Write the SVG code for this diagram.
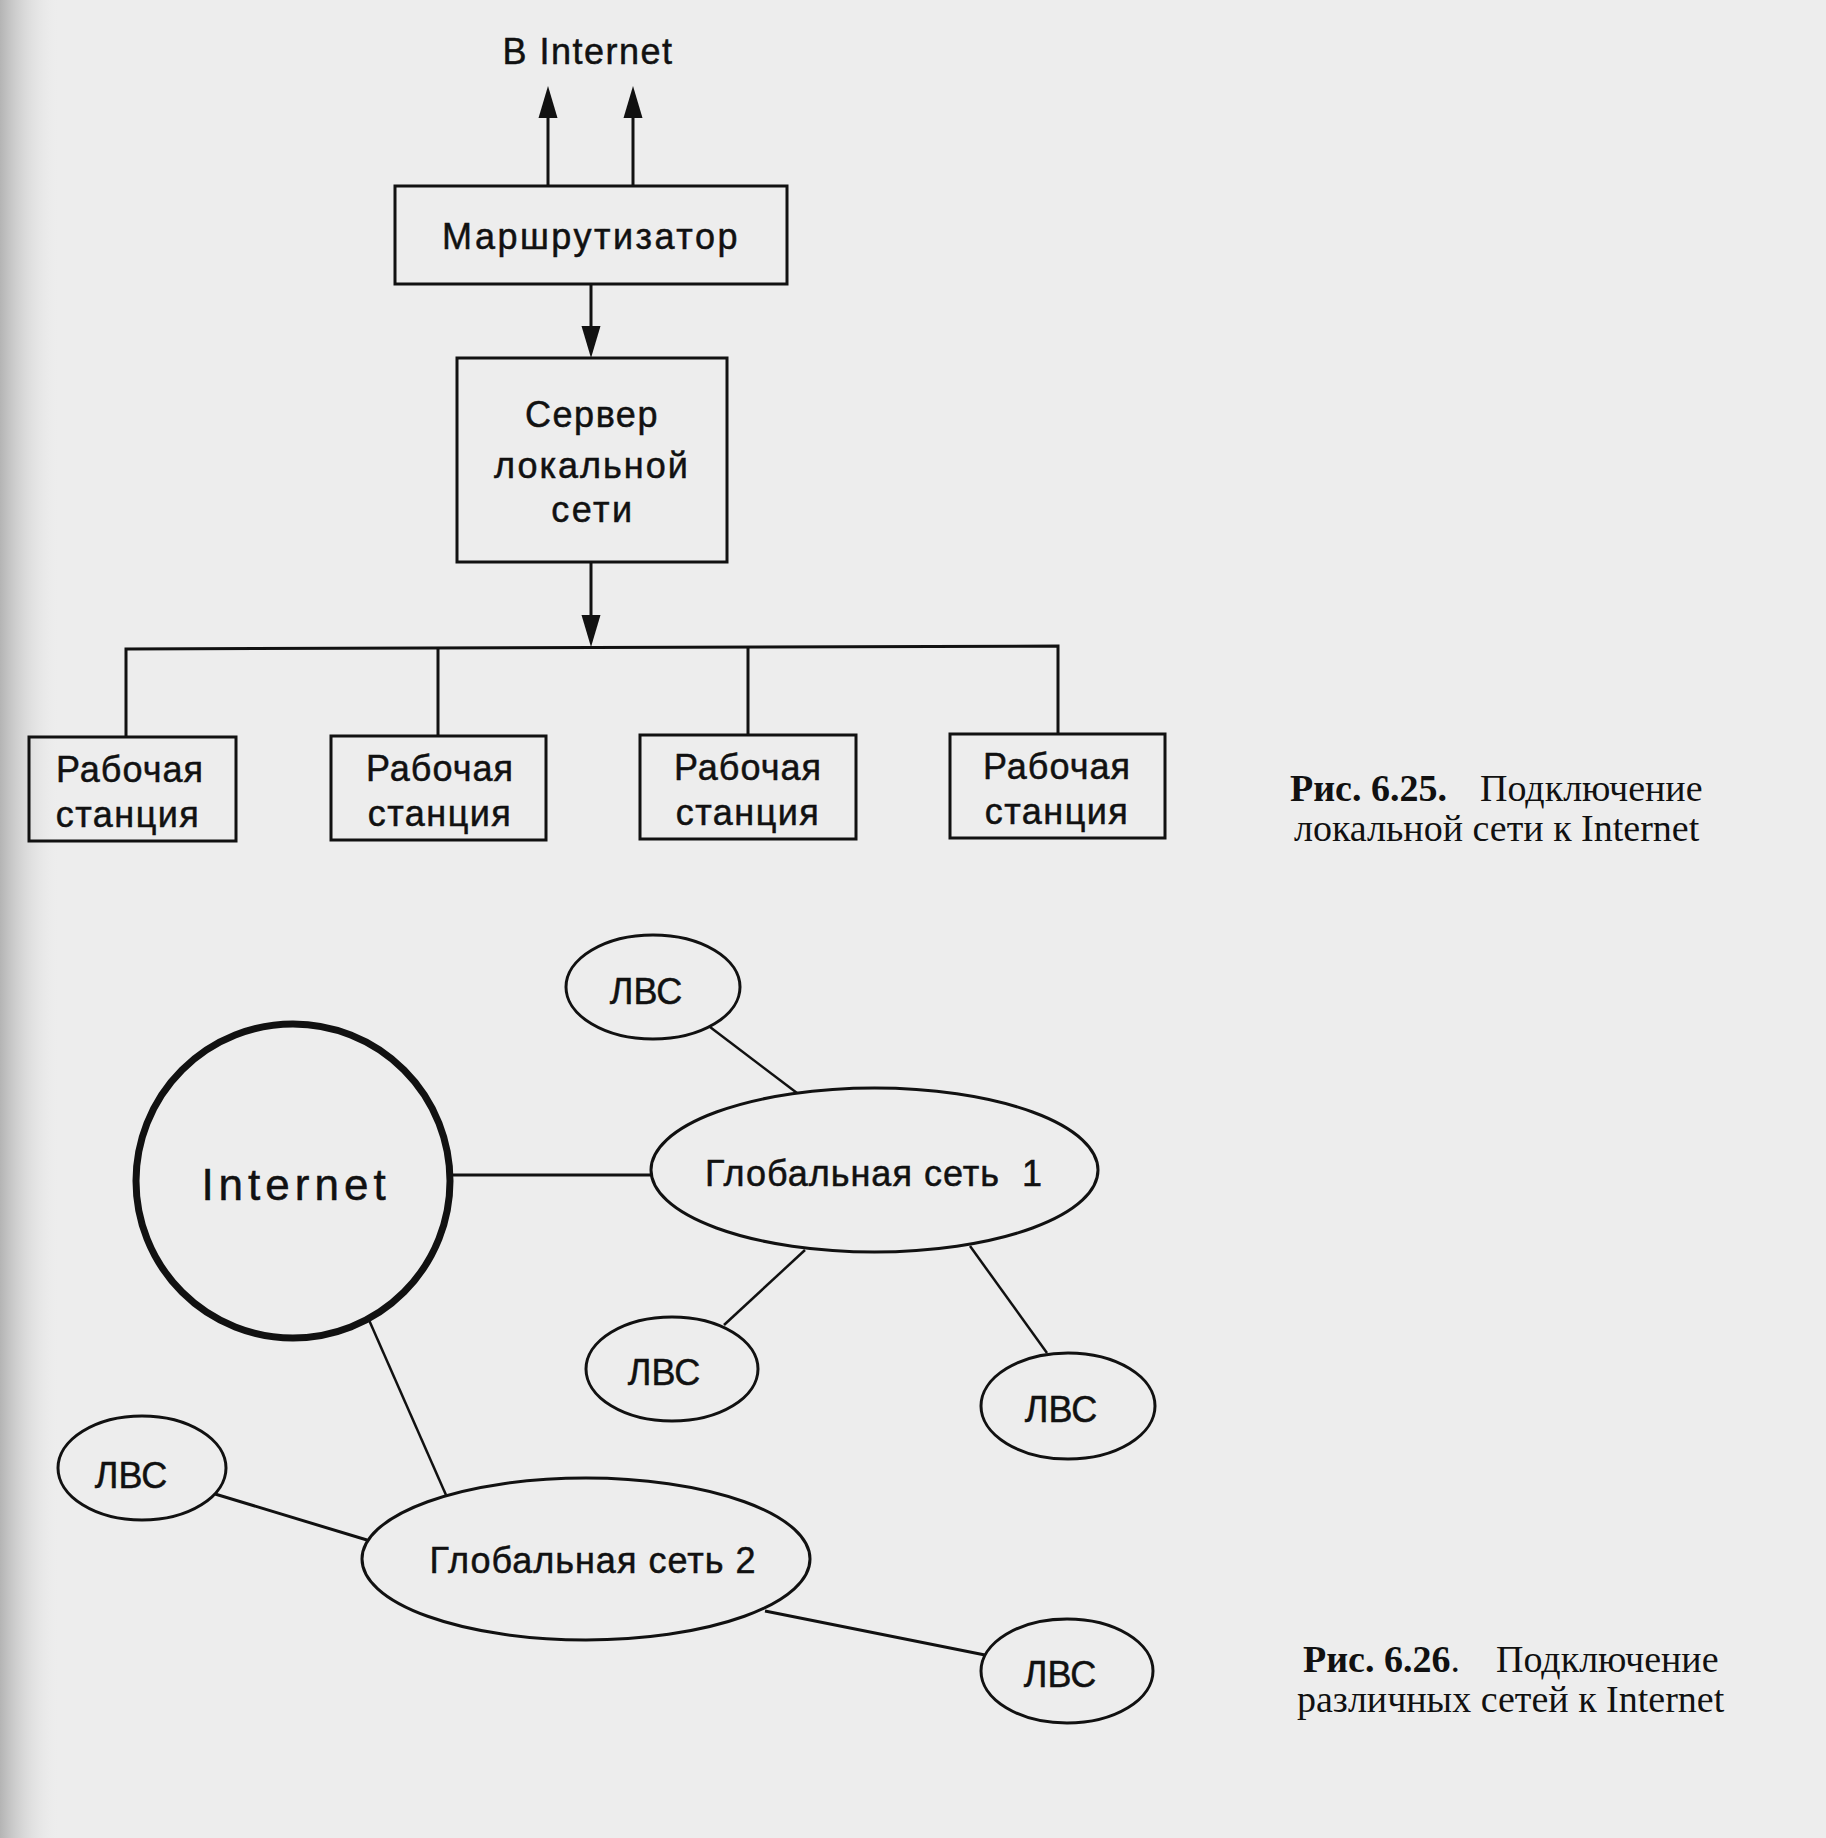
<svg xmlns="http://www.w3.org/2000/svg" width="1826" height="1838" viewBox="0 0 1826 1838">
<defs>
<linearGradient id="edge" x1="0" y1="0" x2="1" y2="0">
<stop offset="0" stop-color="#b4b4b4"/>
<stop offset="1" stop-color="#ededed" stop-opacity="0"/>
</linearGradient>
<marker id="arr" markerUnits="userSpaceOnUse" markerWidth="34" markerHeight="20" viewBox="0 0 34 20" refX="22" refY="10" orient="auto">
<path d="M0,0.5 L32,10 L0,19.5 z" fill="#111"/>
</marker>
<style>
.box{fill:none;stroke:#111;stroke-width:3}
.ell{fill:none;stroke:#111;stroke-width:3}
.big{fill:none;stroke:#111;stroke-width:7}
.ln{fill:none;stroke:#111;stroke-width:3}
.thin{fill:none;stroke:#111;stroke-width:2.5}
.t{font-family:"Liberation Sans",Arial,sans-serif;font-size:36px;fill:#111;stroke:#111;stroke-width:0.5;text-anchor:middle}
.g{font-family:"Liberation Sans",Arial,sans-serif;font-size:36px;fill:#111;stroke:#111;stroke-width:0.5;text-anchor:middle;letter-spacing:1px}
.cap{font-family:"Liberation Serif","Times New Roman",serif;font-size:38px;fill:#111}
.b{font-weight:bold}
</style>
</defs>
<rect x="0" y="0" width="1826" height="1838" fill="#ededed"/>
<rect x="0" y="0" width="60" height="1838" fill="url(#edge)"/>

<g id="connectors">
<line class="ln" x1="548" y1="186" x2="548" y2="96" marker-end="url(#arr)"/>
<line class="ln" x1="633" y1="186" x2="633" y2="96" marker-end="url(#arr)"/>
<line class="ln" x1="591" y1="284" x2="591" y2="348" marker-end="url(#arr)"/>
<line class="ln" x1="591" y1="562" x2="591" y2="637" marker-end="url(#arr)"/>
<polyline class="ln" points="126,737 126,649 1058,646 1058,734"/>
<line class="ln" x1="438" y1="648" x2="438" y2="736"/>
<line class="ln" x1="748" y1="647" x2="748" y2="735"/>
<line class="ln" x1="451" y1="1175" x2="651" y2="1175"/>
<line class="thin" x1="710" y1="1027" x2="797" y2="1093"/>
<line class="thin" x1="805" y1="1250" x2="724" y2="1325"/>
<line class="thin" x1="970" y1="1246" x2="1047" y2="1353"/>
<line class="thin" x1="369" y1="1320" x2="446" y2="1495"/>
<line class="ln" x1="215" y1="1494" x2="367" y2="1540"/>
<line class="ln" x1="765" y1="1611" x2="985" y2="1655"/>
</g>

<g id="label-internet-top">
<text class="t" x="588" y="64" style="letter-spacing:1.5px">B Internet</text>
</g>

<g id="router">
<rect class="box" x="395" y="186" width="392" height="98"/>
<text class="t" x="591" y="249" style="letter-spacing:2.5px">Маршрутизатор</text>
</g>

<g id="server">
<rect class="box" x="457" y="358" width="270" height="204"/>
<text class="t" x="592" y="427" style="letter-spacing:1.5px">Сервер</text>
<text class="t" x="592" y="478" style="letter-spacing:2px">локальной</text>
<text class="t" x="593" y="522" style="letter-spacing:2.5px">сети</text>
</g>

<g id="ws1">
<rect class="box" x="29" y="737" width="207" height="104"/>
<text class="t" x="130" y="782" style="letter-spacing:1px">Рабочая</text>
<text class="t" x="128" y="827" style="letter-spacing:1.5px">станция</text>
</g>
<g id="ws2">
<rect class="box" x="331" y="736" width="215" height="104"/>
<text class="t" x="440" y="781" style="letter-spacing:1px">Рабочая</text>
<text class="t" x="440" y="826" style="letter-spacing:1.5px">станция</text>
</g>
<g id="ws3">
<rect class="box" x="640" y="735" width="216" height="104"/>
<text class="t" x="748" y="780" style="letter-spacing:1px">Рабочая</text>
<text class="t" x="748" y="825" style="letter-spacing:1.5px">станция</text>
</g>
<g id="ws4">
<rect class="box" x="950" y="734" width="215" height="104"/>
<text class="t" x="1057" y="779" style="letter-spacing:1px">Рабочая</text>
<text class="t" x="1057" y="824" style="letter-spacing:1.5px">станция</text>
</g>

<g id="caption-625">
<text class="cap" x="1290" y="801"><tspan class="b">Рис. 6.25.</tspan></text>
<text class="cap" x="1480" y="801">Подключение</text>
<text class="cap" x="1294" y="841">локальной сети к Internet</text>
</g>

<g id="internet">
<circle class="big" cx="293" cy="1181" r="157"/>
<text class="t" x="296" y="1200" style="font-size:44px;letter-spacing:5px">Internet</text>
</g>

<g id="global1">
<ellipse class="ell" cx="874.5" cy="1170" rx="223.5" ry="82"/>
<text class="g" x="874" y="1186" xml:space="preserve">Глобальная сеть  1</text>
</g>

<g id="global2">
<ellipse class="ell" cx="586" cy="1559" rx="224" ry="81"/>
<text class="g" x="593" y="1573">Глобальная сеть 2</text>
</g>

<g id="lan-top">
<ellipse class="ell" cx="653" cy="987" rx="87" ry="52"/>
<text class="g" x="646" y="1004" style="letter-spacing:0">ЛВС</text>
</g>
<g id="lan-mid">
<ellipse class="ell" cx="672" cy="1369" rx="86" ry="52"/>
<text class="g" x="664" y="1385" style="letter-spacing:0">ЛВС</text>
</g>
<g id="lan-right">
<ellipse class="ell" cx="1068" cy="1406" rx="87" ry="53"/>
<text class="g" x="1061" y="1422" style="letter-spacing:0">ЛВС</text>
</g>
<g id="lan-left">
<ellipse class="ell" cx="142" cy="1468" rx="84" ry="52"/>
<text class="g" x="131" y="1488" style="letter-spacing:0">ЛВС</text>
</g>
<g id="lan-bottom">
<ellipse class="ell" cx="1067" cy="1671" rx="86" ry="52"/>
<text class="g" x="1060" y="1687" style="letter-spacing:0">ЛВС</text>
</g>

<g id="caption-626">
<text class="cap" x="1303" y="1672"><tspan class="b">Рис. 6.26</tspan>.</text>
<text class="cap" x="1496" y="1672">Подключение</text>
<text class="cap" x="1297" y="1712">различных сетей к Internet</text>
</g>
</svg>
